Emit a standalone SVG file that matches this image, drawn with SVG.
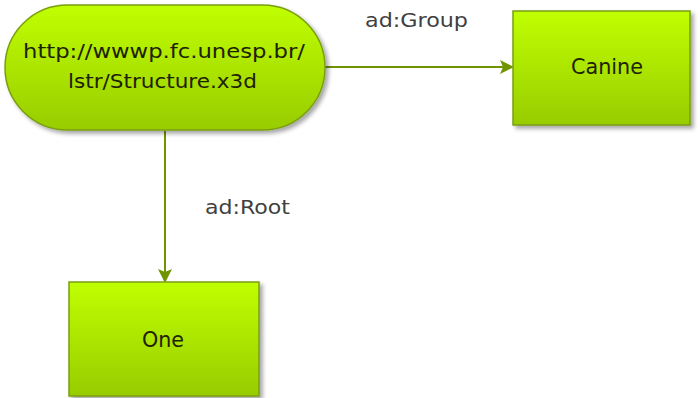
<svg xmlns="http://www.w3.org/2000/svg" width="700" height="398" viewBox="0 0 700 398">
<defs>
<linearGradient id="g" x1="0" y1="0" x2="0" y2="1">
<stop offset="0" stop-color="#c0ff00"/>
<stop offset="1" stop-color="#98cc00"/>
</linearGradient>
<filter id="sh" x="-10%" y="-10%" width="130%" height="130%">
<feGaussianBlur in="SourceAlpha" stdDeviation="2"/>
<feOffset dx="3" dy="3" result="b"/>
<feComponentTransfer><feFuncA type="linear" slope="0.35"/></feComponentTransfer>
<feMerge><feMergeNode/><feMergeNode in="SourceGraphic"/></feMerge>
</filter>
<marker id="ar" markerWidth="14" markerHeight="14" refX="12" refY="7" orient="auto" markerUnits="userSpaceOnUse">
<path d="M0,0 L14,7 L0,14 L3,7 Z" fill="#6f9400"/>
</marker>
</defs>
<style>
.node{fill:url(#g);stroke:#7a9e10;stroke-width:1.5;filter:url(#sh)}
.t{font-family:"DejaVu Sans",Verdana,sans-serif;font-size:20px;fill:#1e2200;text-anchor:middle}
.lbl{font-family:"DejaVu Sans",Verdana,sans-serif;font-size:19px;fill:#404040;text-anchor:middle}
.c{stroke:#6f9400;stroke-width:2;fill:none;marker-end:url(#ar)}
</style>
<g id="connectors">
<path class="c" d="M325,67 L512,67"/>
<path class="c" d="M165,131 L165,281"/>
<text class="lbl" x="416.5" y="27" textLength="103" lengthAdjust="spacingAndGlyphs">ad:Group</text>
<text class="lbl" x="247.5" y="214" textLength="85" lengthAdjust="spacingAndGlyphs">ad:Root</text>
</g>
<g id="structure">
<rect class="node" x="5" y="5" width="320" height="125" rx="62.5" ry="62.5"/>
<text class="t" x="164" y="58" textLength="282" lengthAdjust="spacingAndGlyphs">http://wwwp.fc.unesp.br/</text>
<text class="t" x="162.5" y="88" textLength="189" lengthAdjust="spacingAndGlyphs">lstr/Structure.x3d</text>
</g>
<g id="canine">
<rect class="node" x="513" y="11" width="177" height="114"/>
<text class="t" x="607" y="74" style="font-size:21px" textLength="72" lengthAdjust="spacingAndGlyphs">Canine</text>
</g>
<g id="one">
<rect class="node" x="69" y="282" width="190" height="114"/>
<text class="t" x="163" y="347" style="font-size:21px" textLength="42" lengthAdjust="spacingAndGlyphs">One</text>
</g>
</svg>
